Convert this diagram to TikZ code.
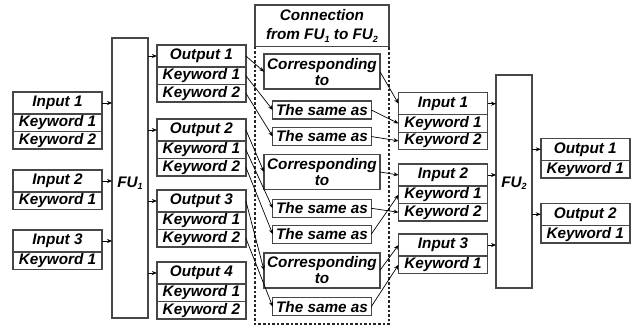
\documentclass[tikz,border=0pt]{standalone}
\usepackage{fontspec}
\setmainfont{Liberation Sans}
\usetikzlibrary{arrows.meta,positioning}

\newcommand{\fusub}[1]{\raisebox{-0.3ex}{\fontsize{9}{9}\selectfont #1}}

\tikzset{
  lbl/.style={font=\fontsize{15.3}{16}\selectfont\bfseries\itshape},
  cell/.style={draw=black!72, line width=1.4pt, fill=white, inner sep=0pt,
    outer sep=0pt, minimum width=89pt, lbl},
  head/.style={cell, minimum height=22pt},
  kw/.style={cell, minimum height=17.5pt},
  fubox/.style={draw=black!72, line width=1.4pt, inner sep=0pt, outer sep=0pt,
    minimum width=36pt},
  corr/.style={cell, minimum width=116pt, minimum height=35pt, align=center},
  same/.style={cell, minimum width=98.5pt, minimum height=18pt},
  link/.style={-{Stealth[length=5pt,width=4pt]}, line width=0.7pt},
  zone/.style={draw=black!85, line width=1.2pt, dash pattern=on 2.6pt off 2pt},
}

\begin{document}
\begin{tikzpicture}[x=1pt,y=-1pt]
\useasboundingbox (0,0) rectangle (640,329);

% functional units
\node[fubox, minimum height=280pt, anchor=north west] (fu1) at (112,38) {};
\node[lbl] (fu1lbl) at (130,183) {FU\fusub{1}};
\node[fubox, minimum height=213pt, anchor=north west] (fu2) at (496,75) {};
\node[lbl] (fu2lbl) at (514,183) {FU\fusub{2}};

% inputs of FU1
\node[head, anchor=north] (li1) at (57.5,92) {Input 1};
\node[kw, anchor=north] (li1a) at (li1.south) {Keyword 1};
\node[kw, anchor=north] (li1b) at (li1a.south) {Keyword 2};
\node[head, anchor=north] (li2) at (57.5,170) {Input 2};
\node[kw, anchor=north] (li2a) at (li2.south) {Keyword 1};
\node[head, anchor=north] (li3) at (57.5,230) {Input 3};
\node[kw, anchor=north] (li3a) at (li3.south) {Keyword 1};

% outputs of FU1
\node[head, anchor=north] (fo1) at (201.4,45) {Output 1};
\node[kw, anchor=north] (fo1a) at (fo1.south) {Keyword 1};
\node[kw, anchor=north] (fo1b) at (fo1a.south) {Keyword 2};
\node[head, anchor=north] (fo2) at (201.4,119) {Output 2};
\node[kw, anchor=north] (fo2a) at (fo2.south) {Keyword 1};
\node[kw, anchor=north] (fo2b) at (fo2a.south) {Keyword 2};
\node[head, anchor=north] (fo3) at (201.4,190) {Output 3};
\node[kw, anchor=north] (fo3a) at (fo3.south) {Keyword 1};
\node[kw, anchor=north] (fo3b) at (fo3a.south) {Keyword 2};
\node[head, anchor=north] (fo4) at (201.4,262) {Output 4};
\node[kw, anchor=north] (fo4a) at (fo4.south) {Keyword 1};
\node[kw, anchor=north] (fo4b) at (fo4a.south) {Keyword 2};

% connection zone
\node[cell, minimum width=134pt, minimum height=41.7pt, anchor=north west,
      align=center, font=\fontsize{15.3}{19}\selectfont\bfseries\itshape]
      (conn) at (255,5) {Connection\\from FU\fusub{1} to FU\fusub{2}};
\coordinate (zonebot) at (0,324);
\draw[zone] (conn.south west) -- (conn.south west |- zonebot)
  -- (conn.south east |- zonebot) -- (conn.south east);

\node[corr] (c1) at (322,71.7) {Corresponding\\to};
\node[corr] (c2) at (322,172) {Corresponding\\to};
\node[corr] (c3) at (322,270.3) {Corresponding\\to};
\node[same] (s1) at (322,110) {The same as};
\node[same] (s2) at (322,136.5) {The same as};
\node[same] (s3) at (322,208.3) {The same as};
\node[same] (s4) at (322,234.2) {The same as};
\node[same] (s5) at (322,306.7) {The same as};

% inputs of FU2
\node[head, anchor=north] (ri1) at (443,92.7) {Input 1};
\node[kw, anchor=north] (ri1a) at (ri1.south) {Keyword 1};
\node[kw, anchor=north] (ri1b) at (ri1a.south) {Keyword 2};
\node[head, anchor=north] (ri2) at (443,164) {Input 2};
\node[kw, anchor=north] (ri2a) at (ri2.south) {Keyword 1};
\node[kw, anchor=north] (ri2b) at (ri2a.south) {Keyword 2};
\node[head, anchor=north] (ri3) at (443,234) {Input 3};
\node[kw, anchor=north] (ri3a) at (ri3.south) {Keyword 1};

% outputs of FU2
\node[head, anchor=north] (ro1) at (585.3,138.3) {Output 1};
\node[kw, anchor=north] (ro1a) at (ro1.south) {Keyword 1};
\node[head, anchor=north] (ro2) at (585.3,203.3) {Output 2};
\node[kw, anchor=north] (ro2a) at (ro2.south) {Keyword 1};

% into and out of FU1
\foreach \n in {li1,li2,li3}
  \draw[link] (\n.east) -- (\n.east -| fu1.west);
\foreach \n in {fo1,fo2,fo3,fo4}
  \draw[link] (\n.west -| fu1.east) -- (\n.west);

% FU1 outputs to the connection rules
\draw[link] (fo1.east) -- (c1.west);
\draw[link] (fo1a.east) -- (s1.west);
\draw[link] (fo1b.east) -- (s2.west);
\draw[link] (fo2.east) -- (c2.west);
\draw[link] (fo2a.east) -- (s3.west);
\draw[link] (fo2b.east) -- (s4.west);
\draw[link] (fo3.east) -- (c3.west);
\draw[link] (fo3b.east) -- (s5.west);

% connection rules to FU2 inputs
\draw[link] (c1.east) -- (ri1.west);
\draw[link] (s1.east) -- (ri1a.west);
\draw[link] (s2.east) -- (ri1b.west);
\draw[link] (c2.east) -- (ri2.west);
\draw[link] (s3.east) -- (ri2b.west);
\draw[link] (s4.east) -- (ri2a.west);
\draw[link] (c3.east) -- (ri3.west);
\draw[link] (s5.east) -- (ri3a.west);

% into and out of FU2
\foreach \n in {ri1,ri2,ri3}
  \draw[link] (\n.east) -- (\n.east -| fu2.west);
\foreach \n in {ro1,ro2}
  \draw[link] (\n.west -| fu2.east) -- (\n.west);
\end{tikzpicture}
\end{document}
